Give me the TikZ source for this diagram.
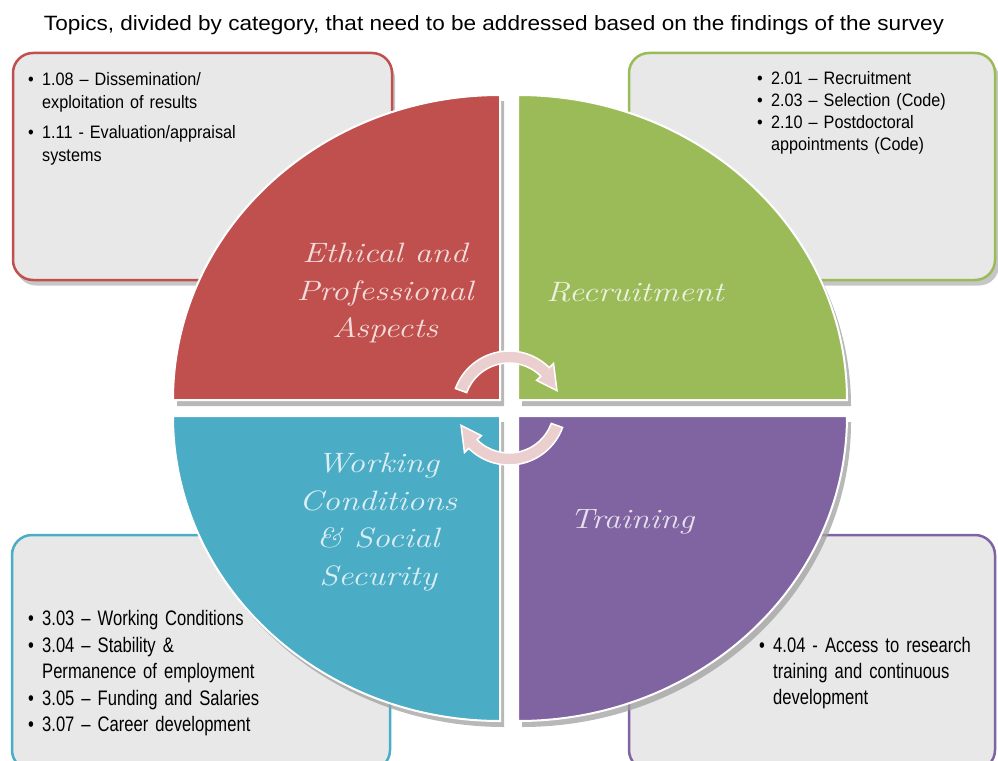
\documentclass[tikz,border=0pt]{standalone}
\usepackage{fontspec}
\newfontfamily\sansf{Liberation Sans}
\newfontfamily\titlef[FakeStretch=0.8]{Liberation Sans}
\newfontfamily\narrowA[FakeStretch=0.9]{Liberation Sans}
\newfontfamily\narrowB[FakeStretch=0.79]{Liberation Sans}
\newfontfamily\handf[FakeStretch=1.22]{Latin Modern Roman}
\definecolor{cred}{HTML}{C0504D}
\definecolor{cgreen}{HTML}{9BBB59}
\definecolor{cteal}{HTML}{4BACC6}
\definecolor{cpurple}{HTML}{8064A2}
\definecolor{lred}{HTML}{F2DCDB}
\definecolor{lgreen}{HTML}{EBF1DE}
\definecolor{lteal}{HTML}{DAEEF3}
\definecolor{lpurple}{HTML}{E5E0EC}
\definecolor{boxfill}{HTML}{E8E8E8}
\definecolor{shadowgray}{HTML}{A0A0A0}
\definecolor{arrowpink}{HTML}{EBCFCF}
\newcommand\topicitem[1]{\par\noindent\makebox[14pt][l]{\textbullet}\parbox[t]{300pt}{\raggedright #1\par\xdef\itemlastdp{\the\prevdepth}}\par\prevdepth=\itemlastdp\relax}
\tikzset{
  topicbox/.style={draw=#1, line width=2.5pt, fill=boxfill, rounded corners=20pt, inner sep=0pt},
  boxshadow/.style={fill=shadowgray, opacity=0.6, rounded corners=20pt, inner sep=0pt},
  quadshadow/.style={fill=shadowgray, opacity=0.75},
  quad/.style={fill=#1, draw=white, line width=2pt},
  quadlabel/.style={text=#1, align=center, font=\handf\itshape\fontsize{28}{37.5}\selectfont, inner sep=0pt},
  listtext/.style={anchor=north west, inner sep=0pt, text=black},
  cyclearrow/.style={fill=arrowpink, draw=white, line width=1.5pt},
}
\begin{document}
\begin{tikzpicture}[x=1pt,y=-1pt]
\useasboundingbox (0,0) rectangle (998,760);
\begin{scope}
\clip (0,0) rectangle (998,760);
% title
\node[inner sep=0pt, anchor=base] (title) at (494,31) {\resizebox{900pt}{15pt}{\titlef\fontsize{17}{20}\selectfont Topics, divided by category, that need to be addressed based on the findings of the survey}};
% box shadows
\node[boxshadow, minimum width=379pt, minimum height=227pt] (s1) at (205.5,172) {};
\node[boxshadow, minimum width=368pt, minimum height=227pt] (s2) at (815,172) {};
% boxes
\node[topicbox=cred, minimum width=379pt, minimum height=227pt] (box1) at (202.5,166.5) {};
\node[topicbox=cgreen, minimum width=366pt, minimum height=227pt] (box2) at (812,166.5) {};
\node[topicbox=cteal, minimum width=378pt, minimum height=235pt] (box3) at (201,652.5) {};
\node[topicbox=cpurple, minimum width=366pt, minimum height=235pt] (box4) at (812,652.5) {};
% box texts
\node[listtext, text width=330pt, font=\narrowA\fontsize{18}{22.5}\selectfont] (t1) at (28,63) {%
\topicitem{1.08 – Dissemination/\\exploitation of results}\vspace{8pt}%
\topicitem{1.11 - Evaluation/appraisal\\systems}};
\node[listtext, text width=230pt, font=\narrowA\fontsize{18}{21.7}\selectfont] (t2) at (757,63) {%
\topicitem{2.01 – Recruitment}%
\topicitem{2.03 – Selection (Code)}%
\topicitem{2.10 – Postdoctoral\\appointments (Code)}};
\node[listtext, text width=330pt, font=\narrowB\fontsize{21}{26.5}\selectfont] (t3) at (28,599) {%
\topicitem{3.03 – Working Conditions}%
\topicitem{3.04 – Stability \&\\Permanence of employment}%
\topicitem{3.05 – Funding and Salaries}%
\topicitem{3.07 – Career development}};
\node[listtext, text width=230pt, font=\narrowB\fontsize{21}{26}\selectfont] (t4) at (759,626) {%
\topicitem{4.04 - Access to research\\training and continuous\\development}};
% quadrant shadows
\fill[quadshadow] (504,406) -- ++(-327,0) arc[start angle=180,end angle=270,x radius=327,y radius=305] -- cycle;
\fill[quadshadow] (522,406) -- ++(0,-305) arc[start angle=270,end angle=360,x radius=329,y radius=305] -- cycle;
\fill[quadshadow] (504,422) -- ++(-327,0) arc[start angle=180,end angle=90,x radius=327,y radius=305] -- cycle;
\fill[quadshadow] (522,422) -- ++(329,0) arc[start angle=0,end angle=90,x radius=329,y radius=305] -- cycle;
% quadrants
\draw[quad=cred] (500,400) -- ++(-327,0) arc[start angle=180,end angle=270,x radius=327,y radius=305] -- cycle;
\draw[quad=cgreen] (518,400) -- ++(0,-305) arc[start angle=270,end angle=360,x radius=329,y radius=305] -- cycle;
\draw[quad=cteal] (500,416) -- ++(-327,0) arc[start angle=180,end angle=90,x radius=327,y radius=305] -- cycle;
\draw[quad=cpurple] (518,416) -- ++(329,0) arc[start angle=0,end angle=90,x radius=329,y radius=305] -- cycle;
% quadrant labels
\node[quadlabel=lred] (q1) at (385,293) {Ethical and\\Professional\\Aspects};
\node[quadlabel=lgreen] (q2) at (635,292) {Recruitment};
\node[quadlabel=lpurple] (q4) at (632,522) {Training};
\node[quadlabel=lteal] (q3) at (378,522) {Working\\Conditions\\\& Social\\Security};
% cycle arrows
\begin{scope}[shift={(509,408)}, yscale=-1]
\draw[cyclearrow] (160:57) arc[start angle=160,end angle=45,radius=57] -- (45:63) -- (20:51) -- (45:39) -- (45:45) arc[start angle=45,end angle=160,radius=45] -- cycle;
\draw[cyclearrow] (-20:57) arc[start angle=-20,end angle=-135,radius=57] -- (-135:63) -- (-160:51) -- (-135:39) -- (-135:45) arc[start angle=-135,end angle=-20,radius=45] -- cycle;
\end{scope}
\end{scope}
\end{tikzpicture}
\end{document}
